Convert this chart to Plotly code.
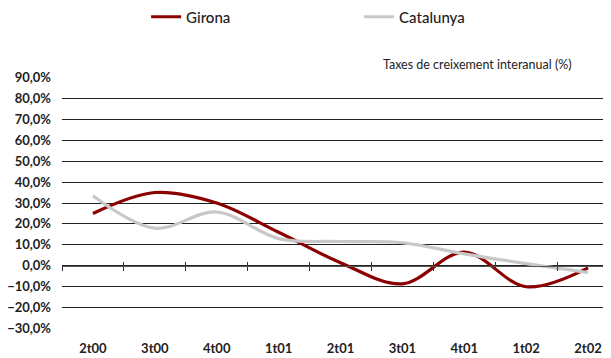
import plotly.graph_objects as go

# trimestres
quarters = ["2t00", "3t00", "4t00", "1t01", "2t01", "3t01", "4t01", "1t02", "2t02"]

# taxes de creixement interanual (%)
girona = [25.0, 35.0, 30.0, 16.0, 1.5, -8.6, 6.5, -10.0, -1.0]
catalunya = [33.5, 18.0, 25.7, 13.0, 11.6, 11.0, 5.7, 1.0, -3.2]

font_fam = "Lato"

fig = go.Figure()
fig.add_trace(go.Scatter(x=quarters, y=girona, name="Girona", mode="lines",
                         line=dict(color="#8B0000", width=3.2, shape="spline", smoothing=1)))
fig.add_trace(go.Scatter(x=quarters, y=catalunya, name="Catalunya", mode="lines",
                         line=dict(color="#C8C8C8", width=3.2, shape="spline", smoothing=1)))

# invisible traces on overlay axes so ticks show on the zero line
fig.add_trace(go.Scatter(x=quarters, y=[None]*len(quarters), xaxis="x2", showlegend=False,
                         hoverinfo="skip"))
fig.add_trace(go.Scatter(x=quarters, y=[None]*len(quarters), xaxis="x3", showlegend=False,
                         hoverinfo="skip"))

zero_pos = 30.2 / 120.4

fig.update_layout(
    width=611, height=358,
    margin=dict(l=54, r=0, t=69, b=37, autoexpand=False),
    paper_bgcolor="white", plot_bgcolor="white",
    separators=", ",
    font=dict(family=font_fam, color="#222222"),
    showlegend=True,
    legend=dict(orientation="h", x=0.151, y=1.238, xanchor="left", yanchor="middle",
                entrywidth=168, entrywidthmode="pixels",
                font=dict(size=15, family=font_fam, color="#222222", weight=500),
                itemwidth=30, bgcolor="rgba(0,0,0,0)"),
    xaxis=dict(type="category", range=[-0.5, 8.5], showgrid=False, showline=False,
               ticks="", ticklabelstandoff=10,
               tickfont=dict(size=13, family=font_fam, color="#222222", weight="bold"),
               zeroline=False, fixedrange=True),
    xaxis2=dict(type="category", range=[-0.5, 8.5], overlaying="x", anchor="free", position=zero_pos,
                showline=True, linecolor="#555555", linewidth=1, ticks="outside", ticklen=4,
                tickcolor="#333333", tickson="boundaries", showticklabels=False, showgrid=False),
    xaxis3=dict(type="category", range=[-0.5, 8.5], overlaying="x", anchor="free", position=zero_pos,
                showline=False, ticks="inside", ticklen=4,
                tickcolor="#333333", tickson="boundaries", showticklabels=False, showgrid=False),
    yaxis=dict(range=[-30.2, 90.2], dtick=10, tick0=0, showgrid=True, gridcolor="#222222", gridwidth=1,
               zeroline=False, showline=False, ticks="", ticklabelstandoff=10,
               tickformat=".1f", ticksuffix="%",
               tickfont=dict(size=13, family=font_fam, color="#222222", weight="bold"),
               fixedrange=True),
    annotations=[dict(text="Taxes de creixement interanual (%)", x=0.92, y=1.048,
                      xref="paper", yref="paper", xanchor="right", yanchor="middle",
                      showarrow=False, font=dict(size=12.5, family=font_fam, color="#222222"))],
)

fig.write_html("out.html")
